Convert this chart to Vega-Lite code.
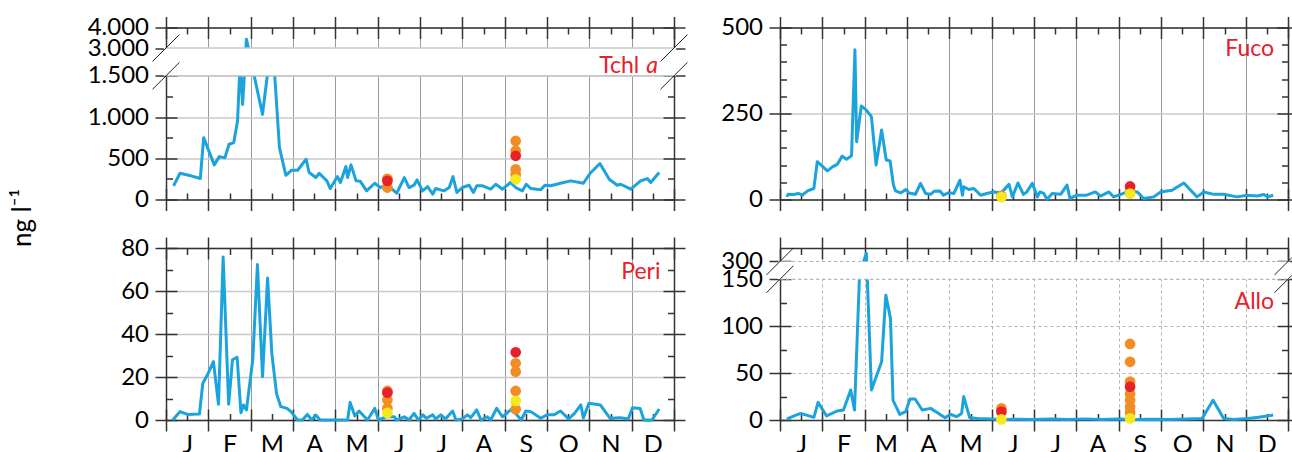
{
"$schema": "https://vega.github.io/schema/vega-lite/v6.json",
"padding": {"left": 9, "top": 15.5, "right": 0, "bottom": 0},
"config": {
  "view": {"stroke": null},
  "font": "Lato",
  "axis": {"labelFont": "Lato", "labelFontSize": 24, "labelColor": "#000", "tickColor": "#333", "tickWidth": 1.5, "domainColor": "#333", "domainWidth": 1.5, "labelPadding": 6.5, "labelOverlap": false, "labelFlush": false, "labelBound": false, "titleFont": "Lato", "titleColor": "#000"},
  "circle": {"size": 115, "opacity": 1},
  "line": {"color": "#1ba3de", "strokeWidth": 3, "strokeJoin": "round"},
  "text": {"font": "Lato", "fontSize": 23, "color": "#e8202a", "align": "right", "baseline": "alphabetic"}
},
"datasets": {
  "tchl": [{"m":0.18,"v":166},{"m":0.33,"v":318},{"m":0.59,"v":287},{"m":0.81,"v":254},{"m":0.89,"v":750},{"m":1.14,"v":420},{"m":1.26,"v":520},{"m":1.39,"v":505},{"m":1.49,"v":670},{"m":1.6,"v":690},{"m":1.69,"v":952},{"m":1.75,"v":2200},{"m":1.81,"v":1153},{"m":1.9,"v":3430},{"m":2.16,"v":1315},{"m":2.28,"v":1032},{"m":2.42,"v":2000},{"m":2.56,"v":1800},{"m":2.68,"v":630},{"m":2.83,"v":294},{"m":2.97,"v":355},{"m":3.11,"v":355},{"m":3.31,"v":488},{"m":3.38,"v":327},{"m":3.54,"v":266},{"m":3.62,"v":318},{"m":3.8,"v":226},{"m":3.88,"v":133},{"m":4.05,"v":278},{"m":4.12,"v":206},{"m":4.25,"v":400},{"m":4.29,"v":266},{"m":4.37,"v":420},{"m":4.49,"v":226},{"m":4.59,"v":220},{"m":4.74,"v":105},{"m":4.93,"v":197},{"m":5.06,"v":145},{"m":5.22,"v":180},{"m":5.45,"v":76},{"m":5.63,"v":266},{"m":5.74,"v":145},{"m":5.86,"v":173},{"m":5.93,"v":238},{"m":6.06,"v":105},{"m":6.18,"v":157},{"m":6.3,"v":64},{"m":6.37,"v":133},{"m":6.57,"v":105},{"m":6.69,"v":145},{"m":6.78,"v":278},{"m":6.87,"v":85},{"m":7.0,"v":145},{"m":7.16,"v":173},{"m":7.26,"v":85},{"m":7.34,"v":166},{"m":7.48,"v":166},{"m":7.67,"v":125},{"m":7.79,"v":185},{"m":7.95,"v":125},{"m":8.14,"v":206},{"m":8.26,"v":145},{"m":8.42,"v":105},{"m":8.51,"v":185},{"m":8.62,"v":133},{"m":8.85,"v":117},{"m":8.95,"v":173},{"m":9.09,"v":166},{"m":9.32,"v":197},{"m":9.56,"v":226},{"m":9.86,"v":197},{"m":10.02,"v":318},{"m":10.25,"v":436},{"m":10.47,"v":246},{"m":10.66,"v":173},{"m":10.74,"v":185},{"m":10.98,"v":125},{"m":11.21,"v":226},{"m":11.37,"v":254},{"m":11.45,"v":206},{"m":11.65,"v":327}],
  "tchl_pts": [{"m":5.23,"v":145,"g":"A"},{"m":5.23,"v":250,"g":"A"},{"m":8.26,"v":710,"g":"A"},{"m":8.26,"v":590,"g":"A"},{"m":8.26,"v":365,"g":"A"},{"m":8.26,"v":300,"g":"A"},{"m":5.23,"v":226,"g":"B"},{"m":8.26,"v":530,"g":"B"},{"m":8.26,"v":245,"g":"C"}],
  "tchl_breaks": [{"m":-0.319,"m2":0.319,"v":2271.5,"v2":3658.5},{"m":-0.319,"m2":0.319,"v":1336.3,"v2":2228.5},{"m":11.681,"m2":12.319,"v":2271.5,"v2":3658.5},{"m":11.681,"m2":12.319,"v":1336.3,"v2":2228.5}],
  "fuco": [{"m":0.16,"v":7.6},{"m":0.19,"v":15},{"m":0.33,"v":14.6},{"m":0.43,"v":17.5},{"m":0.53,"v":12.5},{"m":0.65,"v":25},{"m":0.8,"v":32},{"m":0.88,"v":110},{"m":1.12,"v":83},{"m":1.24,"v":95},{"m":1.35,"v":102},{"m":1.47,"v":126},{"m":1.57,"v":117},{"m":1.69,"v":127},{"m":1.77,"v":435},{"m":1.81,"v":168},{"m":1.92,"v":272},{"m":2.04,"v":260},{"m":2.16,"v":241},{"m":2.27,"v":100},{"m":2.4,"v":202},{"m":2.51,"v":115},{"m":2.6,"v":112},{"m":2.68,"v":42},{"m":2.73,"v":25},{"m":2.85,"v":19},{"m":2.97,"v":29},{"m":3.05,"v":19},{"m":3.2,"v":15},{"m":3.32,"v":47},{"m":3.44,"v":17.5},{"m":3.56,"v":15},{"m":3.64,"v":24},{"m":3.78,"v":25},{"m":3.86,"v":12.5},{"m":3.99,"v":20},{"m":4.11,"v":17.5},{"m":4.25,"v":56},{"m":4.31,"v":12.5},{"m":4.34,"v":37},{"m":4.46,"v":29},{"m":4.58,"v":32},{"m":4.74,"v":12.5},{"m":4.93,"v":19},{"m":5.05,"v":22},{"m":5.23,"v":20},{"m":5.41,"v":44},{"m":5.49,"v":7.6},{"m":5.62,"v":48},{"m":5.75,"v":15},{"m":5.83,"v":22},{"m":5.96,"v":47},{"m":6.08,"v":7.6},{"m":6.14,"v":22},{"m":6.23,"v":17.5},{"m":6.31,"v":1},{"m":6.43,"v":17.5},{"m":6.63,"v":15},{"m":6.78,"v":42},{"m":6.85,"v":3},{"m":7.02,"v":12.5},{"m":7.24,"v":12.5},{"m":7.45,"v":22},{"m":7.57,"v":10},{"m":7.77,"v":22},{"m":7.88,"v":7.6},{"m":8.05,"v":15},{"m":8.27,"v":25},{"m":8.44,"v":22},{"m":8.59,"v":3},{"m":8.83,"v":7.6},{"m":8.99,"v":22},{"m":9.26,"v":27},{"m":9.54,"v":48},{"m":9.85,"v":7.6},{"m":10.01,"v":22},{"m":10.25,"v":15},{"m":10.48,"v":15},{"m":10.8,"v":7.6},{"m":11.03,"v":12.5},{"m":11.27,"v":10},{"m":11.43,"v":14.6},{"m":11.52,"v":7.6},{"m":11.65,"v":12.5}],
  "fuco_pts": [{"m":5.23,"v":11,"g":"A"},{"m":8.27,"v":22,"g":"A"},{"m":8.27,"v":38,"g":"B"},{"m":5.23,"v":7,"g":"C"},{"m":8.27,"v":17,"g":"C"}],
  "peri": [{"m":0.16,"v":0},{"m":0.33,"v":3.9},{"m":0.51,"v":2.6},{"m":0.79,"v":2.8},{"m":0.87,"v":17.1},{"m":0.98,"v":21},{"m":1.12,"v":27.2},{"m":1.24,"v":7.3},{"m":1.35,"v":75.8},{"m":1.48,"v":7.3},{"m":1.57,"v":28},{"m":1.68,"v":29.2},{"m":1.77,"v":3.4},{"m":1.83,"v":7},{"m":1.9,"v":4.7},{"m":2.05,"v":28},{"m":2.16,"v":72.3},{"m":2.28,"v":20.2},{"m":2.4,"v":66},{"m":2.5,"v":31},{"m":2.61,"v":12.4},{"m":2.71,"v":6.2},{"m":2.86,"v":5.4},{"m":2.95,"v":3.9},{"m":3.11,"v":0},{"m":3.22,"v":0},{"m":3.34,"v":2.6},{"m":3.44,"v":0},{"m":3.54,"v":2.3},{"m":3.64,"v":0},{"m":4.29,"v":0},{"m":4.35,"v":8.2},{"m":4.46,"v":1.9},{"m":4.56,"v":4.2},{"m":4.76,"v":0},{"m":4.93,"v":5.4},{"m":5.02,"v":0},{"m":5.2,"v":1.5},{"m":5.39,"v":1.5},{"m":5.45,"v":0},{"m":5.63,"v":1.5},{"m":5.74,"v":0},{"m":5.86,"v":3.1},{"m":5.96,"v":0},{"m":6.07,"v":2.4},{"m":6.15,"v":0.8},{"m":6.3,"v":2.4},{"m":6.37,"v":0.5},{"m":6.49,"v":2.4},{"m":6.6,"v":0.5},{"m":6.77,"v":4.2},{"m":6.85,"v":0},{"m":7.0,"v":0.5},{"m":7.12,"v":2.4},{"m":7.2,"v":1.1},{"m":7.34,"v":4.7},{"m":7.44,"v":0},{"m":7.59,"v":1.5},{"m":7.67,"v":0},{"m":7.81,"v":5.4},{"m":7.95,"v":1.5},{"m":8.14,"v":4.7},{"m":8.26,"v":3},{"m":8.39,"v":0},{"m":8.5,"v":4.2},{"m":8.62,"v":3.9},{"m":8.85,"v":0.8},{"m":9.0,"v":2.4},{"m":9.16,"v":2.4},{"m":9.32,"v":4.2},{"m":9.51,"v":0.5},{"m":9.65,"v":3.1},{"m":9.8,"v":7},{"m":9.86,"v":1},{"m":9.99,"v":7.8},{"m":10.26,"v":7},{"m":10.49,"v":0.8},{"m":10.73,"v":1.1},{"m":10.92,"v":0.5},{"m":11.02,"v":5.7},{"m":11.2,"v":5.4},{"m":11.29,"v":0},{"m":11.48,"v":0},{"m":11.65,"v":5.1}],
  "peri_pts": [{"m":5.23,"v":13.5,"g":"A"},{"m":5.23,"v":9.3,"g":"A"},{"m":5.23,"v":5.5,"g":"A"},{"m":8.26,"v":26.4,"g":"A"},{"m":8.26,"v":22.5,"g":"A"},{"m":8.26,"v":13.5,"g":"A"},{"m":8.26,"v":5,"g":"A"},{"m":5.23,"v":12.7,"g":"B"},{"m":8.26,"v":31.5,"g":"B"},{"m":5.23,"v":3.3,"g":"C"},{"m":8.26,"v":8.9,"g":"C"}],
  "allo": [{"m":0.16,"v":1},{"m":0.29,"v":3.5},{"m":0.49,"v":7},{"m":0.8,"v":2.8},{"m":0.9,"v":18.8},{"m":1.1,"v":4.3},{"m":1.35,"v":9.6},{"m":1.5,"v":10.7},{"m":1.67,"v":32},{"m":1.76,"v":10.7},{"m":1.88,"v":200},{"m":2.04,"v":330},{"m":2.16,"v":32},{"m":2.4,"v":62},{"m":2.5,"v":133},{"m":2.61,"v":108},{"m":2.67,"v":21},{"m":2.83,"v":6},{"m":2.97,"v":8.9},{"m":3.07,"v":22.4},{"m":3.19,"v":22.4},{"m":3.36,"v":10.7},{"m":3.56,"v":12.4},{"m":3.72,"v":7.8},{"m":3.9,"v":2.5},{"m":4.03,"v":6},{"m":4.17,"v":3.5},{"m":4.29,"v":7},{"m":4.34,"v":24.9},{"m":4.48,"v":2.5},{"m":4.66,"v":1.5},{"m":4.97,"v":1},{"m":5.3,"v":0.5},{"m":5.6,"v":0.8},{"m":6.0,"v":0.5},{"m":6.4,"v":1},{"m":6.8,"v":0.5},{"m":7.2,"v":1.2},{"m":7.6,"v":0.5},{"m":8.0,"v":1},{"m":8.4,"v":0.5},{"m":8.8,"v":0.8},{"m":9.2,"v":0.5},{"m":9.6,"v":1},{"m":9.97,"v":1.5},{"m":10.23,"v":21},{"m":10.48,"v":1.5},{"m":10.71,"v":0.5},{"m":11.05,"v":1.5},{"m":11.31,"v":3},{"m":11.65,"v":5.3}],
  "allo_pts": [{"m":5.23,"v":12.4,"g":"A"},{"m":8.27,"v":81,"g":"A"},{"m":8.27,"v":62,"g":"A"},{"m":8.27,"v":41,"g":"A"},{"m":8.27,"v":28,"g":"A"},{"m":8.27,"v":21,"g":"A"},{"m":8.27,"v":14,"g":"A"},{"m":8.27,"v":8,"g":"A"},{"m":5.23,"v":8.9,"g":"B"},{"m":8.27,"v":35.5,"g":"B"},{"m":5.23,"v":0.7,"g":"C"},{"m":8.27,"v":1.7,"g":"C"}],
  "allo_breaks": [{"m":-0.319,"m2":0.319,"v":186,"v2":350.4},{"m":-0.319,"m2":0.319,"v":135.6,"v2":263.8},{"m":11.681,"m2":12.09,"v":186,"v2":314},{"m":11.681,"m2":12.09,"v":135.6,"v2":182}]
},
"bounds": "flush",
"columns": 2,
"spacing": {"row": 48.5, "column": 106},
"concat": [
  {"width": 508, "height": 172,
   "resolve": {"scale": {"x": "independent", "y": "independent"}},
   "layer": [
    {"data": {"name": "tchl"}, "mark": {"type": "point", "opacity": 0},
     "encoding": {
      "x": {"field": "m", "type": "quantitative", "scale": {"domain": [0,12], "nice": false, "zero": false}, "axis": {"orient": "bottom", "values": [0,1,2,3,4,5,6,7,8,9,10,11,12], "tickSize": 11, "labels": false, "grid": true, "gridColor": "#9a9a9a", "gridWidth": 1, "domain": true, "title": null}},
      "y": {"field": "v", "type": "quantitative", "scale": {"domain": [0,1500,3000,4000], "range": [172,48.3,20.5,0], "nice": false, "zero": false}, "axis": {"orient": "left", "values": [0,500,1000,1500,3000,4000], "tickSize": 11, "grid": true, "gridColor": "#c8c8c8", "gridWidth": 1.5, "domain": true, "labelExpr": "datum.value >= 1000 ? replace(format(datum.value, ','), ',', '.') : format(datum.value, 'd')", "title": "ng l⁻¹", "titleX": -144, "titleY": 190, "titleAngle": -90, "titleAlign": "center", "titleBaseline": "middle", "titleFontSize": 26, "titleFontWeight": "normal"}}
     }},
    {"data": {"name": "tchl"}, "mark": {"type": "point", "opacity": 0},
     "encoding": {
      "x": {"field": "m", "type": "quantitative", "scale": {"domain": [0,12], "nice": false, "zero": false}, "axis": {"orient": "bottom", "values": [0,0.5,1,1.5,2,2.5,3,3.5,4,4.5,5,5.5,6,6.5,7,7.5,8,8.5,9,9.5,10,10.5,11,11.5,12], "tickSize": {"condition": {"test": "datum.value % 1 === 0", "value": -11}, "value": -6.5}, "labels": false, "domain": false, "grid": false, "title": null}},
      "y": {"field": "v", "type": "quantitative", "scale": {"domain": [0,1500,3000,4000], "range": [172,48.3,20.5,0], "nice": false, "zero": false}, "axis": {"orient": "left", "values": [0,250,500,750,1000,1250,1500,3000,4000], "tickSize": {"condition": {"test": "datum.value % 500 === 0", "value": -11}, "value": -6.5}, "labels": false, "domain": false, "grid": false, "title": null}}
     }},
    {"data": {"name": "tchl"}, "mark": {"type": "point", "opacity": 0},
     "encoding": {
      "x": {"field": "m", "type": "quantitative", "scale": {"domain": [0,12], "nice": false, "zero": false}, "axis": {"orient": "top", "values": [0,1,2,3,4,5,6,7,8,9,10,11,12], "tickSize": 11, "labels": false, "domain": true, "grid": false, "title": null}},
      "y": {"field": "v", "type": "quantitative", "scale": {"domain": [0,1500,3000,4000], "range": [172,48.3,20.5,0], "nice": false, "zero": false}, "axis": {"orient": "right", "values": [0,500,1000,1500,3000,4000], "tickSize": 11, "labels": false, "domain": true, "grid": false, "title": null}}
     }},
    {"data": {"name": "tchl"}, "mark": {"type": "point", "opacity": 0},
     "encoding": {
      "x": {"field": "m", "type": "quantitative", "scale": {"domain": [0,12], "nice": false, "zero": false}, "axis": {"orient": "top", "values": [0,0.5,1,1.5,2,2.5,3,3.5,4,4.5,5,5.5,6,6.5,7,7.5,8,8.5,9,9.5,10,10.5,11,11.5,12], "tickSize": {"condition": {"test": "datum.value % 1 === 0", "value": -11}, "value": -6.5}, "labels": false, "domain": false, "grid": false, "title": null}},
      "y": {"field": "v", "type": "quantitative", "scale": {"domain": [0,1500,3000,4000], "range": [172,48.3,20.5,0], "nice": false, "zero": false}, "axis": {"orient": "right", "values": [0,250,500,750,1000,1250,1500,3000,4000], "tickSize": {"condition": {"test": "datum.value % 500 === 0", "value": -11}, "value": -6.5}, "labels": false, "domain": false, "grid": false, "title": null}}
     }},
    {"layer": [
      {"data": {"name": "tchl"}, "mark": {"type": "line"},
       "encoding": {"x": {"field": "m", "type": "quantitative", "scale": {"domain": [0,12], "nice": false, "zero": false}, "axis": null}, "y": {"field": "v", "type": "quantitative", "scale": {"domain": [0,1500,3000,4000], "range": [172,48.3,20.5,0], "nice": false, "zero": false}, "axis": null}}},
      {"data": {"name": "tchl_pts"}, "mark": {"type": "circle"},
       "encoding": {"x": {"field": "m", "type": "quantitative", "axis": null}, "y": {"field": "v", "type": "quantitative", "axis": null}, "color": {"field": "g", "type": "nominal", "scale": {"domain": ["A","B","C"], "range": ["#f28c24","#e8202a","#f5e81c"]}, "legend": null}}},
      {"data": {"values": [{"part": "gap"}]}, "mark": {"type": "rect", "color": "white"},
       "encoding": {"x": {"datum": -0.05, "type": "quantitative", "axis": null}, "x2": {"datum": 12.05}, "y": {"datum": 1500, "type": "quantitative", "axis": null}, "y2": {"datum": 3000}}},
      {"data": {"values": [{"v": 1500}, {"v": 3000}]}, "mark": {"type": "rule", "color": "#c8c8c8", "strokeWidth": 1.5},
       "encoding": {"x": {"datum": 0, "type": "quantitative", "axis": null}, "x2": {"datum": 12}, "y": {"field": "v", "type": "quantitative", "axis": null}}},
      {"data": {"name": "tchl_breaks"}, "mark": {"type": "rule", "color": "#222", "strokeWidth": 1},
       "encoding": {"x": {"field": "m", "type": "quantitative", "axis": null}, "x2": {"field": "m2"}, "y": {"field": "v", "type": "quantitative", "axis": null}, "y2": {"field": "v2"}}},
      {"data": {"values": [{"label": "Tchl"}]}, "mark": {"type": "text"},
       "encoding": {"x": {"datum": 11.18, "type": "quantitative", "axis": null}, "y": {"datum": 1678, "type": "quantitative", "axis": null}, "text": {"field": "label"}}},
      {"data": {"values": [{"label": "a"}]}, "mark": {"type": "text", "fontStyle": "italic"},
       "encoding": {"x": {"datum": 11.62, "type": "quantitative", "axis": null}, "y": {"datum": 1678, "type": "quantitative", "axis": null}, "text": {"field": "label"}}}
    ]}
   ]},
  {"width": 508, "height": 172,
   "resolve": {"scale": {"x": "independent", "y": "independent"}},
   "layer": [
    {"data": {"name": "fuco"}, "mark": {"type": "point", "opacity": 0},
     "encoding": {
      "x": {"field": "m", "type": "quantitative", "scale": {"domain": [0,12], "nice": false, "zero": false}, "axis": {"orient": "bottom", "values": [0,1,2,3,4,5,6,7,8,9,10,11,12], "tickSize": 11, "labels": false, "grid": true, "gridColor": "#9a9a9a", "gridWidth": 1, "domain": true, "title": null}},
      "y": {"field": "v", "type": "quantitative", "scale": {"domain": [0,500], "nice": false, "zero": false}, "axis": {"orient": "left", "values": [0,250,500], "tickSize": 11, "grid": true, "gridColor": "#c8c8c8", "gridWidth": 1.5, "domain": true, "title": null}}
     }},
    {"data": {"name": "fuco"}, "mark": {"type": "point", "opacity": 0},
     "encoding": {
      "x": {"field": "m", "type": "quantitative", "scale": {"domain": [0,12], "nice": false, "zero": false}, "axis": {"orient": "bottom", "values": [0,0.5,1,1.5,2,2.5,3,3.5,4,4.5,5,5.5,6,6.5,7,7.5,8,8.5,9,9.5,10,10.5,11,11.5,12], "tickSize": {"condition": {"test": "datum.value % 1 === 0", "value": -11}, "value": -6.5}, "labels": false, "domain": false, "grid": false, "title": null}},
      "y": {"field": "v", "type": "quantitative", "scale": {"domain": [0,500], "nice": false, "zero": false}, "axis": {"orient": "left", "values": [0,50,100,150,200,250,300,350,400,450,500], "tickSize": {"condition": {"test": "datum.value % 250 === 0", "value": -11}, "value": -6.5}, "labels": false, "domain": false, "grid": false, "title": null}}
     }},
    {"data": {"name": "fuco"}, "mark": {"type": "point", "opacity": 0},
     "encoding": {
      "x": {"field": "m", "type": "quantitative", "scale": {"domain": [0,12], "nice": false, "zero": false}, "axis": {"orient": "top", "values": [0,1,2,3,4,5,6,7,8,9,10,11,12], "tickSize": 11, "labels": false, "domain": true, "grid": false, "title": null}},
      "y": {"field": "v", "type": "quantitative", "scale": {"domain": [0,500], "nice": false, "zero": false}, "axis": {"orient": "right", "values": [0,250,500], "tickSize": 4.5, "labels": false, "domain": true, "grid": false, "title": null}}
     }},
    {"data": {"name": "fuco"}, "mark": {"type": "point", "opacity": 0},
     "encoding": {
      "x": {"field": "m", "type": "quantitative", "scale": {"domain": [0,12], "nice": false, "zero": false}, "axis": {"orient": "top", "values": [0,0.5,1,1.5,2,2.5,3,3.5,4,4.5,5,5.5,6,6.5,7,7.5,8,8.5,9,9.5,10,10.5,11,11.5,12], "tickSize": {"condition": {"test": "datum.value % 1 === 0", "value": -11}, "value": -6.5}, "labels": false, "domain": false, "grid": false, "title": null}},
      "y": {"field": "v", "type": "quantitative", "scale": {"domain": [0,500], "nice": false, "zero": false}, "axis": {"orient": "right", "values": [0,50,100,150,200,250,300,350,400,450,500], "tickSize": {"condition": {"test": "datum.value % 250 === 0", "value": -11}, "value": -6.5}, "labels": false, "domain": false, "grid": false, "title": null}}
     }},
    {"layer": [
      {"data": {"name": "fuco"}, "mark": {"type": "line"},
       "encoding": {"x": {"field": "m", "type": "quantitative", "scale": {"domain": [0,12], "nice": false, "zero": false}, "axis": null}, "y": {"field": "v", "type": "quantitative", "scale": {"domain": [0,500], "nice": false, "zero": false}, "axis": null}}},
      {"data": {"name": "fuco_pts"}, "mark": {"type": "circle"},
       "encoding": {"x": {"field": "m", "type": "quantitative", "axis": null}, "y": {"field": "v", "type": "quantitative", "axis": null}, "color": {"field": "g", "type": "nominal", "scale": {"domain": ["A","B","C"], "range": ["#f28c24","#e8202a","#f5e81c"]}, "legend": null}}},
      {"data": {"values": [{"label": "Fuco"}]}, "mark": {"type": "text"},
       "encoding": {"x": {"datum": 11.67, "type": "quantitative", "axis": null}, "y": {"datum": 418, "type": "quantitative", "axis": null}, "text": {"field": "label"}}}
    ]}
   ]},
  {"width": 508, "height": 172,
   "resolve": {"scale": {"x": "independent", "y": "independent"}},
   "layer": [
    {"data": {"name": "peri"}, "mark": {"type": "point", "opacity": 0},
     "encoding": {
      "x": {"field": "m", "type": "quantitative", "scale": {"domain": [0,12], "nice": false, "zero": false}, "axis": {"orient": "bottom", "values": [0,1,2,3,4,5,6,7,8,9,10,11,12], "tickSize": 11, "labels": true, "labelExpr": "['J','F','M','A','M','J','J','A','S','O','N','D',''][datum.value]", "labelOffset": 21.17, "labelFontSize": 25, "labelPadding": 1, "grid": true, "gridColor": "#9a9a9a", "gridWidth": 1, "domain": true, "title": null}},
      "y": {"field": "v", "type": "quantitative", "scale": {"domain": [0,80], "nice": false, "zero": false}, "axis": {"orient": "left", "values": [0,20,40,60,80], "tickSize": 11, "grid": true, "gridColor": "#c8c8c8", "gridWidth": 1.5, "domain": true, "title": null}}
     }},
    {"data": {"name": "peri"}, "mark": {"type": "point", "opacity": 0},
     "encoding": {
      "x": {"field": "m", "type": "quantitative", "scale": {"domain": [0,12], "nice": false, "zero": false}, "axis": {"orient": "bottom", "values": [0,0.5,1,1.5,2,2.5,3,3.5,4,4.5,5,5.5,6,6.5,7,7.5,8,8.5,9,9.5,10,10.5,11,11.5,12], "tickSize": {"condition": {"test": "datum.value % 1 === 0", "value": -11}, "value": -6.5}, "labels": false, "domain": false, "grid": false, "title": null}},
      "y": {"field": "v", "type": "quantitative", "scale": {"domain": [0,80], "nice": false, "zero": false}, "axis": {"orient": "left", "values": [0,10,20,30,40,50,60,70,80], "tickSize": {"condition": {"test": "datum.value % 20 === 0", "value": -11}, "value": -6.5}, "labels": false, "domain": false, "grid": false, "title": null}}
     }},
    {"data": {"name": "peri"}, "mark": {"type": "point", "opacity": 0},
     "encoding": {
      "x": {"field": "m", "type": "quantitative", "scale": {"domain": [0,12], "nice": false, "zero": false}, "axis": {"orient": "top", "values": [0,1,2,3,4,5,6,7,8,9,10,11,12], "tickSize": 11, "labels": false, "domain": true, "grid": false, "title": null}},
      "y": {"field": "v", "type": "quantitative", "scale": {"domain": [0,80], "nice": false, "zero": false}, "axis": {"orient": "right", "values": [0,20,40,60,80], "tickSize": 11, "labels": false, "domain": true, "grid": false, "title": null}}
     }},
    {"data": {"name": "peri"}, "mark": {"type": "point", "opacity": 0},
     "encoding": {
      "x": {"field": "m", "type": "quantitative", "scale": {"domain": [0,12], "nice": false, "zero": false}, "axis": {"orient": "top", "values": [0,0.5,1,1.5,2,2.5,3,3.5,4,4.5,5,5.5,6,6.5,7,7.5,8,8.5,9,9.5,10,10.5,11,11.5,12], "tickSize": {"condition": {"test": "datum.value % 1 === 0", "value": -11}, "value": -6.5}, "labels": false, "domain": false, "grid": false, "title": null}},
      "y": {"field": "v", "type": "quantitative", "scale": {"domain": [0,80], "nice": false, "zero": false}, "axis": {"orient": "right", "values": [0,10,20,30,40,50,60,70,80], "tickSize": {"condition": {"test": "datum.value % 20 === 0", "value": -11}, "value": -6.5}, "labels": false, "domain": false, "grid": false, "title": null}}
     }},
    {"layer": [
      {"data": {"name": "peri"}, "mark": {"type": "line"},
       "encoding": {"x": {"field": "m", "type": "quantitative", "scale": {"domain": [0,12], "nice": false, "zero": false}, "axis": null}, "y": {"field": "v", "type": "quantitative", "scale": {"domain": [0,80], "nice": false, "zero": false}, "axis": null}}},
      {"data": {"name": "peri_pts"}, "mark": {"type": "circle"},
       "encoding": {"x": {"field": "m", "type": "quantitative", "axis": null}, "y": {"field": "v", "type": "quantitative", "axis": null}, "color": {"field": "g", "type": "nominal", "scale": {"domain": ["A","B","C"], "range": ["#f28c24","#e8202a","#f5e81c"]}, "legend": null}}},
      {"data": {"values": [{"label": "Peri"}]}, "mark": {"type": "text"},
       "encoding": {"x": {"datum": 11.68, "type": "quantitative", "axis": null}, "y": {"datum": 65.6, "type": "quantitative", "axis": null}, "text": {"field": "label"}}}
    ]}
   ]},
  {"width": 508, "height": 172,
   "resolve": {"scale": {"x": "independent", "y": "independent"}},
   "layer": [
    {"data": {"name": "allo"}, "mark": {"type": "point", "opacity": 0},
     "encoding": {
      "x": {"field": "m", "type": "quantitative", "scale": {"domain": [0,12], "nice": false, "zero": false}, "axis": {"orient": "bottom", "values": [0,1,2,3,4,5,6,7,8,9,10,11,12], "tickSize": 11, "labels": true, "labelExpr": "['J','F','M','A','M','J','J','A','S','O','N','D',''][datum.value]", "labelOffset": 21.17, "labelFontSize": 25, "labelPadding": 1, "grid": true, "gridColor": "#b0b0b0", "gridWidth": 1, "gridDash": [3,3], "domain": true, "title": null}},
      "y": {"field": "v", "type": "quantitative", "scale": {"domain": [0,150,300,350], "range": [172,31.2,13.4,0], "nice": false, "zero": false}, "axis": {"orient": "left", "values": [0,50,100,150,300], "tickSize": 11, "grid": true, "gridColor": "#b0b0b0", "gridWidth": 1, "gridDash": [3,3], "domain": true, "title": null}}
     }},
    {"data": {"name": "allo"}, "mark": {"type": "point", "opacity": 0},
     "encoding": {
      "x": {"field": "m", "type": "quantitative", "scale": {"domain": [0,12], "nice": false, "zero": false}, "axis": {"orient": "bottom", "values": [0,0.5,1,1.5,2,2.5,3,3.5,4,4.5,5,5.5,6,6.5,7,7.5,8,8.5,9,9.5,10,10.5,11,11.5,12], "tickSize": {"condition": {"test": "datum.value % 1 === 0", "value": -11}, "value": -6.5}, "labels": false, "domain": false, "grid": false, "title": null}},
      "y": {"field": "v", "type": "quantitative", "scale": {"domain": [0,150,300,350], "range": [172,31.2,13.4,0], "nice": false, "zero": false}, "axis": {"orient": "left", "values": [0,25,50,75,100,125,150,300], "tickSize": {"condition": {"test": "datum.value % 50 === 0", "value": -11}, "value": -6.5}, "labels": false, "domain": false, "grid": false, "title": null}}
     }},
    {"data": {"name": "allo"}, "mark": {"type": "point", "opacity": 0},
     "encoding": {
      "x": {"field": "m", "type": "quantitative", "scale": {"domain": [0,12], "nice": false, "zero": false}, "axis": {"orient": "top", "values": [0,1,2,3,4,5,6,7,8,9,10,11,12], "tickSize": 11, "labels": false, "domain": true, "grid": false, "title": null}},
      "y": {"field": "v", "type": "quantitative", "scale": {"domain": [0,150,300,350], "range": [172,31.2,13.4,0], "nice": false, "zero": false}, "axis": {"orient": "right", "values": [0,50,100,150,300], "tickSize": 4.5, "labels": false, "domain": true, "grid": false, "title": null}}
     }},
    {"data": {"name": "allo"}, "mark": {"type": "point", "opacity": 0},
     "encoding": {
      "x": {"field": "m", "type": "quantitative", "scale": {"domain": [0,12], "nice": false, "zero": false}, "axis": {"orient": "top", "values": [0,0.5,1,1.5,2,2.5,3,3.5,4,4.5,5,5.5,6,6.5,7,7.5,8,8.5,9,9.5,10,10.5,11,11.5,12], "tickSize": {"condition": {"test": "datum.value % 1 === 0", "value": -11}, "value": -6.5}, "labels": false, "domain": false, "grid": false, "title": null}},
      "y": {"field": "v", "type": "quantitative", "scale": {"domain": [0,150,300,350], "range": [172,31.2,13.4,0], "nice": false, "zero": false}, "axis": {"orient": "right", "values": [0,25,50,75,100,125,150,300], "tickSize": {"condition": {"test": "datum.value % 50 === 0", "value": -11}, "value": -6.5}, "labels": false, "domain": false, "grid": false, "title": null}}
     }},
    {"layer": [
      {"data": {"name": "allo"}, "mark": {"type": "line"},
       "encoding": {"x": {"field": "m", "type": "quantitative", "scale": {"domain": [0,12], "nice": false, "zero": false}, "axis": null}, "y": {"field": "v", "type": "quantitative", "scale": {"domain": [0,150,300,350], "range": [172,31.2,13.4,0], "nice": false, "zero": false}, "axis": null}}},
      {"data": {"name": "allo_pts"}, "mark": {"type": "circle"},
       "encoding": {"x": {"field": "m", "type": "quantitative", "axis": null}, "y": {"field": "v", "type": "quantitative", "axis": null}, "color": {"field": "g", "type": "nominal", "scale": {"domain": ["A","B","C"], "range": ["#f28c24","#e8202a","#f5e81c"]}, "legend": null}}},
      {"data": {"values": [{"part": "gap"}]}, "mark": {"type": "rect", "color": "white"},
       "encoding": {"x": {"datum": -0.05, "type": "quantitative", "axis": null}, "x2": {"datum": 12.05}, "y": {"datum": 150, "type": "quantitative", "axis": null}, "y2": {"datum": 300}}},
      {"data": {"values": [{"v": 150}, {"v": 300}]}, "mark": {"type": "rule", "color": "#b0b0b0", "strokeWidth": 1, "strokeDash": [3,3]},
       "encoding": {"x": {"datum": 0, "type": "quantitative", "axis": null}, "x2": {"datum": 12}, "y": {"field": "v", "type": "quantitative", "axis": null}}},
      {"data": {"name": "allo_breaks"}, "mark": {"type": "rule", "color": "#222", "strokeWidth": 1},
       "encoding": {"x": {"field": "m", "type": "quantitative", "axis": null}, "x2": {"field": "m2"}, "y": {"field": "v", "type": "quantitative", "axis": null}, "y2": {"field": "v2"}}},
      {"data": {"values": [{"label": "Allo"}]}, "mark": {"type": "text"},
       "encoding": {"x": {"datum": 11.67, "type": "quantitative", "axis": null}, "y": {"datum": 118.3, "type": "quantitative", "axis": null}, "text": {"field": "label"}}}
    ]}
   ]}
]
}
